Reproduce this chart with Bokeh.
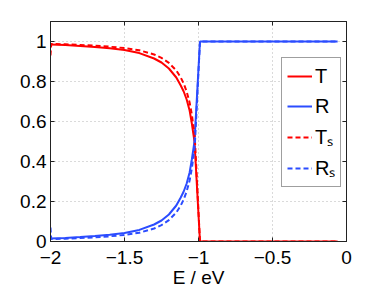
from bokeh.plotting import figure
from bokeh.models import Legend, LegendItem, LinearAxis, FixedTicker, Range1d
from bokeh.embed import file_html
from bokeh.resources import INLINE

# ---- data ----
E = [-2.0, -1.9, -1.8, -1.7, -1.6, -1.5, -1.4, -1.3, -1.25, -1.2, -1.15, -1.12, -1.1,
     -1.08, -1.06, -1.045, -1.035, -1.027, -0.99, -0.5, -0.06]
T = [0.985, 0.982, 0.978, 0.973, 0.966, 0.957, 0.942, 0.915, 0.895, 0.865, 0.82, 0.78, 0.75,
     0.71, 0.655, 0.59, 0.54, 0.50, 0.0, 0.0, 0.0]
R = [0.015, 0.018, 0.022, 0.027, 0.034, 0.043, 0.058, 0.085, 0.105, 0.135, 0.18, 0.22, 0.25,
     0.29, 0.345, 0.41, 0.46, 0.50, 1.0, 1.0, 1.0]

E_s = [-2.0, -1.995, -1.9, -1.8, -1.7, -1.6, -1.5, -1.4, -1.3, -1.25, -1.2, -1.15, -1.12, -1.1,
       -1.08, -1.06, -1.045, -1.035, -1.025, -0.99, -0.5, -0.06]
T_s = [0.93, 0.988, 0.986, 0.983, 0.979, 0.974, 0.967, 0.956, 0.935, 0.918, 0.893, 0.855, 0.82, 0.79,
       0.75, 0.695, 0.635, 0.58, 0.52, 0.0, 0.0, 0.0]
R_s = [0.07, 0.012, 0.014, 0.017, 0.021, 0.026, 0.033, 0.044, 0.065, 0.082, 0.107, 0.145, 0.18, 0.21,
       0.25, 0.305, 0.365, 0.42, 0.48, 1.0, 1.0, 1.0]

x_ticks = [-2, -1.5, -1, -0.5, 0]
x_tick_labels = ["\u22122", "\u22121.5", "\u22121", "\u22120.5", "0"]
y_ticks = [0, 0.2, 0.4, 0.6, 0.8, 1]
y_tick_labels = ["0", "0.2", "0.4", "0.6", "0.8", "1"]
legend_labels = ["T", "R", "T\u209b", "R\u209b"]
x_label = "E / eV"

RED = "#ff0000"
BLUE = "#2b4cff"
FONT = "Liberation Sans"
FW, FH = 296, 220

p = figure(frame_width=FW, frame_height=FH, output_backend="svg", toolbar_location=None,
           x_range=Range1d(-2, 0), y_range=Range1d(0, 1.1),
           min_border_left=50, min_border_right=28, min_border_top=21, min_border_bottom=39)
p.background_fill_color = "white"
p.border_fill_color = "white"
p.outline_line_color = "#222222"
p.outline_line_width = 1

for ax, ticks, labels in ((p.xaxis[0], x_ticks, x_tick_labels), (p.yaxis[0], y_ticks, y_tick_labels)):
    ax.ticker = FixedTicker(ticks=ticks)
    ax.major_label_overrides = {t: l for t, l in zip(ticks, labels)}
    ax.major_label_text_font = FONT
    ax.major_label_text_font_size = "19px"
    ax.major_label_text_color = "black"
    ax.major_tick_in = 4
    ax.major_tick_out = 0
    ax.minor_tick_line_color = None
    ax.axis_line_color = "#222222"
    ax.major_tick_line_color = "#222222"

p.xaxis[0].major_label_standoff = 9
p.yaxis[0].major_label_standoff = 4
p.xaxis[0].axis_label = x_label
p.xaxis[0].axis_label_text_font = FONT
p.xaxis[0].axis_label_text_font_size = "19px"
p.xaxis[0].axis_label_text_font_style = "normal"
p.xaxis[0].axis_label_text_color = "black"
p.xaxis[0].axis_label_standoff = 0

# box ticks on top and right
for ticks, loc in ((x_ticks, "above"), (y_ticks, "right")):
    a = LinearAxis(ticker=FixedTicker(ticks=ticks),
                   major_label_overrides={t: "" for t in ticks},
                   major_label_text_font_size="1px", major_label_standoff=0,
                   major_tick_in=4, major_tick_out=0, minor_tick_line_color=None,
                   axis_line_color="#222222", major_tick_line_color="#222222")
    p.add_layout(a, loc)

p.xgrid.ticker = FixedTicker(ticks=x_ticks)
p.ygrid.ticker = FixedTicker(ticks=y_ticks)
for g in (p.xgrid[0], p.ygrid[0]):
    g.grid_line_color = "#b4b4b4"
    g.grid_line_dash = "1 3"
    g.grid_line_width = 1

r1 = p.line(E, T, line_color=RED, line_width=2)
r2 = p.line(E, R, line_color=BLUE, line_width=2)
r3 = p.line(E_s, T_s, line_color=RED, line_width=2, line_dash="5 3")
r4 = p.line(E_s, R_s, line_color=BLUE, line_width=2, line_dash="5 3")

legend = Legend(items=[LegendItem(label=n, renderers=[r]) for n, r in zip(legend_labels, [r1, r2, r3, r4])],
                location=(231, 54), padding=5, spacing=4, glyph_width=25, glyph_height=26,
                label_height=26, label_width=20, label_standoff=3, margin=0,
                label_text_font=FONT, label_text_font_size="20px", label_text_color="black",
                border_line_color="#404040", border_line_width=1,
                background_fill_color="white", background_fill_alpha=1)
p.add_layout(legend)

open("out.html", "w").write(file_html(p, INLINE))
